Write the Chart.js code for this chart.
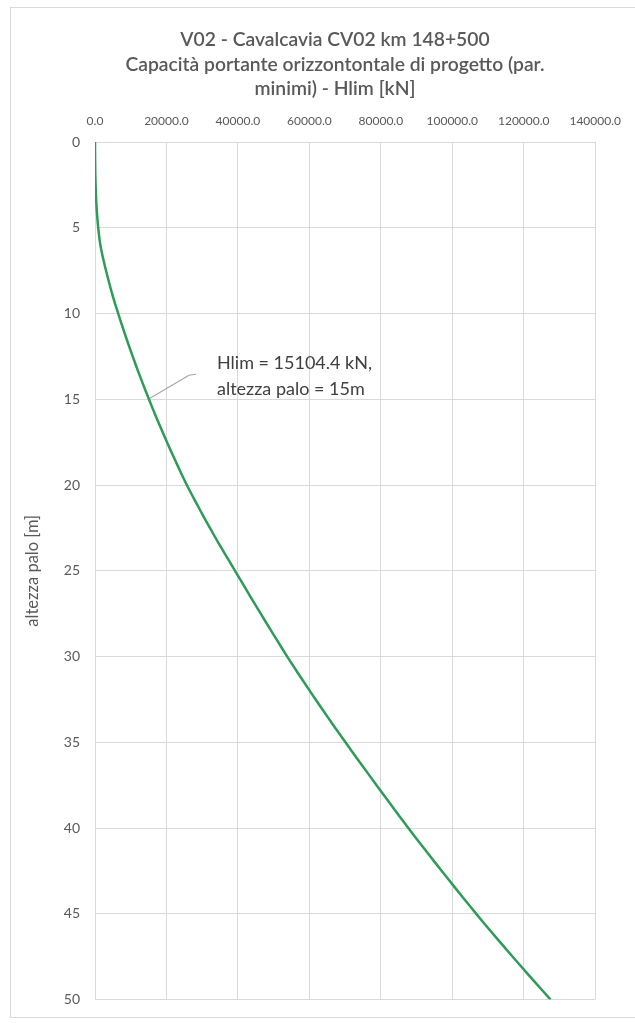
<!DOCTYPE html>
<html>
<head>
<meta charset="utf-8">
<script src="https://cdn.jsdelivr.net/npm/chart.js@4.4.1/dist/chart.umd.min.js"></script>
<style>
  html, body { margin: 0; padding: 0; background: #ffffff; }
  #wrap { width: 635px; height: 1023px; position: relative; }
</style>
</head>
<body>
<div id="wrap"><canvas id="c" width="635" height="1023"></canvas></div>
<script>
// ---- data ----
const titleLines = [
  "V02 - Cavalcavia CV02 km 148+500",
  "Capacità portante orizzontontale di progetto (par.",
  "minimi) - Hlim [kN]"
];
const yAxisTitle = "altezza palo [m]";
const depths = [0,1,2,3,4,5,6,7,8,9,10,11,12,13,14,15,16,17,18,19,20,21,22,23,24,25,26,27,28,29,30,31,32,33,34,35,36,37,38,39,40,41,42,43,44,45,46,47,48,49,50];
const hlim = [0,30,100,250,500,900,1500,2500,3700,5000,6500,8050,9700,11420,13220,15104.4,17050,19100,21220,23420,25700,28220,30820,33520,36320,39200,42050,44930,47850,50800,53800,56920,60120,63380,66710,70100,73550,77040,80560,84110,87700,91400,95150,98950,102800,106700,110720,114820,118980,123200,127500];
const xTicks = [0,20000,40000,60000,80000,100000,120000,140000];
const yTicks = [0,5,10,15,20,25,30,35,40,45,50];
const labelPoint = { x: 15104.4, y: 15 };
const labelLines = ["Hlim = 15104.4 kN,", "altezza palo = 15m"];

const points = depths.map((d, i) => ({ x: hlim[i], y: d }));

const FONT = "Lato, 'Open Sans', sans-serif";
const TXT = "#595959";
const GRID = "#d9d9d9";

const decor = {
  id: 'decor',
  beforeDraw(chart) {
    const ctx = chart.ctx;
    ctx.save();
    ctx.fillStyle = '#ffffff';
    ctx.fillRect(0, 0, chart.width, chart.height);
    ctx.strokeStyle = '#d9d9d9';
    ctx.lineWidth = 1;
    ctx.strokeRect(10.5, 7.5, 640, 1010);
    ctx.restore();
  },
  afterDraw(chart) {
    const ctx = chart.ctx;
    ctx.save();
    // title
    ctx.fillStyle = TXT;
    ctx.textAlign = 'center';
    ctx.textBaseline = 'middle';
    ctx.font = "600 19.3px " + FONT;
    const ty = [40, 64.5, 89];
    titleLines.forEach((t, i) => ctx.fillText(t, 335, ty[i]));
    // data label with leader line
    const xs = chart.scales.x, ys = chart.scales.y;
    const px = xs.getPixelForValue(labelPoint.x);
    const py = ys.getPixelForValue(labelPoint.y);
    ctx.strokeStyle = '#a6a6a6';
    ctx.lineWidth = 1.2;
    ctx.beginPath();
    ctx.moveTo(px + 1, py - 1);
    ctx.lineTo(px + 40, py - 24);
    ctx.lineTo(px + 47, py - 25);
    ctx.stroke();
    ctx.fillStyle = '#404040';
    ctx.textAlign = 'left';
    ctx.font = "18px " + FONT;
    ctx.fillText(labelLines[0], px + 68, py - 36);
    ctx.fillText(labelLines[1], px + 68, py - 10);
    ctx.restore();
  }
};

new Chart(document.getElementById('c'), {
  type: 'scatter',
  data: {
    datasets: [{
      data: points,
      showLine: true,
      borderColor: '#2e9b57',
      borderWidth: 2.5,
      pointRadius: 0,
      pointHoverRadius: 0,
      tension: 0.3,
      fill: false
    }]
  },
  options: {
    responsive: false,
    devicePixelRatio: 1,
    animation: false,
    layout: { padding: { left: 10, right: 36, top: 100, bottom: 15 } },
    plugins: {
      legend: { display: false },
      tooltip: { enabled: false },
      title: { display: false }
    },
    scales: {
      x: {
        type: 'linear',
        position: 'top',
        min: 0,
        max: 140000,
        afterBuildTicks(scale) { scale.ticks = xTicks.map(v => ({ value: v })); },
        afterFit(scale) { scale.height = 42; },
        grid: { color: GRID, lineWidth: 1, drawTicks: false },
        border: { color: GRID, width: 1 },
        ticks: {
          color: TXT,
          font: { family: FONT, size: 12 },
          padding: 14,
          maxRotation: 0,
          autoSkip: false,
          callback: v => Number(v).toFixed(1)
        }
      },
      y: {
        type: 'linear',
        reverse: true,
        min: 0,
        max: 50,
        afterBuildTicks(scale) { scale.ticks = yTicks.map(v => ({ value: v })); },
        afterFit(scale) { scale.width = 85; },
        grid: { color: GRID, lineWidth: 1, drawTicks: false },
        border: { color: GRID, width: 1 },
        ticks: {
          color: TXT,
          font: { family: FONT, size: 14 },
          padding: 15,
          autoSkip: false
        },
        title: {
          display: true,
          text: yAxisTitle,
          color: TXT,
          font: { family: FONT, size: 16.5 },
          padding: { top: 13, bottom: 0 }
        }
      }
    }
  },
  plugins: [decor]
});
</script>
</body>
</html>
